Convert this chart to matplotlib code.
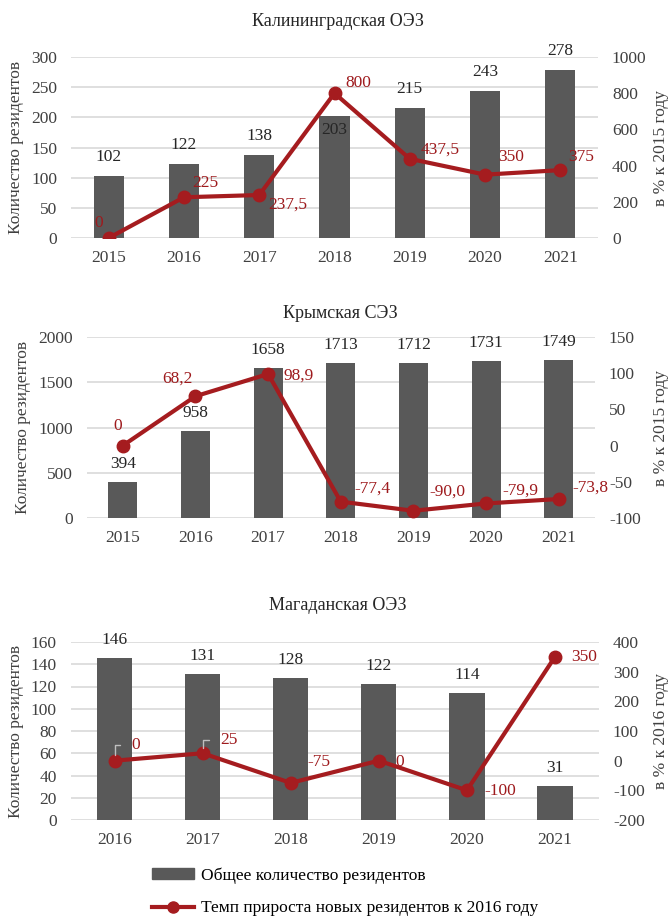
import matplotlib
matplotlib.use("Agg")
import matplotlib.pyplot as plt
from matplotlib.patches import Patch
from matplotlib.lines import Line2D

plt.rcParams['font.family'] = ['Liberation Serif', 'DejaVu Serif']
plt.rcParams['axes.unicode_minus'] = False

# ---------------- data ----------------
kal_years = ["2015", "2016", "2017", "2018", "2019", "2020", "2021"]
kal_total = [102, 122, 138, 203, 215, 243, 278]
kal_growth = [0, 225, 237.5, 800, 437.5, 350, 375]
kal_growth_labels = ["0", "225", "237,5", "800", "437,5", "350", "375"]

krym_years = ["2015", "2016", "2017", "2018", "2019", "2020", "2021"]
krym_total = [394, 958, 1658, 1713, 1712, 1731, 1749]
krym_growth = [0, 68.2, 98.9, -77.4, -90.0, -79.9, -73.8]
krym_growth_labels = ["0", "68,2", "98,9", "-77,4", "-90,0", "-79,9", "-73,8"]

mag_years = ["2016", "2017", "2018", "2019", "2020", "2021"]
mag_total = [146, 131, 128, 122, 114, 31]
mag_growth = [0, 25, -75, 0, -100, 350]
mag_growth_labels = ["0", "25", "-75", "0", "-100", "350"]

BAR = "#595959"
RED = "#a51c1f"
LBL_RED = "#9e1a1d"
GRID = "#d9d9d9"
TXT = "#262626"
FS = 12.5

W, H = 671, 918
fig = plt.figure(figsize=(W / 100, H / 100), dpi=100)


def px_axes(x0, x1, ytop, ybot):
    return fig.add_axes([x0 / W, 1 - ybot / H, (x1 - x0) / W, (ybot - ytop) / H])


def panel(ax, years, total, growth, glabels, lyl, lticks, ryl, rticks,
          bar_offsets, line_offsets, title, title_xy, rlabel, ylx=16, leaders=()):
    x = list(range(len(years)))
    ax.bar(x, total, width=0.4, color=BAR, zorder=2)
    ax.set_xlim(-0.5, len(years) - 0.5)
    ax.set_ylim(*lyl)
    ax.set_yticks(lticks)
    ax.set_xticks(x)
    ax.set_xticklabels(years)
    ax.yaxis.grid(True, color=GRID, linewidth=1.2, zorder=0)
    ax.set_axisbelow(True)
    for s in ax.spines.values():
        s.set_visible(False)
    ax.tick_params(axis='y', length=0, pad=10, labelsize=FS, labelcolor="#404040")
    ax.tick_params(axis='x', length=0, pad=9, labelsize=FS, labelcolor="#404040")
    for xi, v, off in zip(x, total, bar_offsets):
        ax.annotate(str(v), (xi, v), xytext=(0, off), textcoords='offset pixels',
                    ha='center', va='center', fontsize=FS, color=TXT, zorder=5)

    ax2 = ax.twinx()
    ax2.set_ylim(*ryl)
    ax2.set_yticks(rticks)
    for s in ax2.spines.values():
        s.set_visible(False)
    ax2.tick_params(axis='y', length=0, pad=10, labelsize=FS, labelcolor="#404040")
    for lab in ax2.get_yticklabels():
        lab.set_horizontalalignment('left')
    ax2.plot(x, growth, color=RED, linewidth=3, marker='o', markersize=9,
             markerfacecolor=RED, markeredgecolor=RED, zorder=4)
    for i, (xi, v, lab, off) in enumerate(zip(x, growth, glabels, line_offsets)):
        kw = {}
        if i in leaders:
            kw = dict(arrowprops=dict(arrowstyle='-', color='#bfbfbf', lw=1,
                                      shrinkA=6, shrinkB=4,
                                      connectionstyle='angle,angleA=0,angleB=90,rad=0'))
        ax2.annotate(lab, (xi, v), xytext=off, textcoords='offset pixels',
                     ha='center', va='center', fontsize=FS, color=LBL_RED,
                     zorder=6, **kw)

    fig.text(title_xy[0] / W, 1 - title_xy[1] / H, title, ha='center', va='center',
             fontsize=13, color=TXT)
    pos = ax.get_position()
    yc = pos.y0 + pos.height / 2
    fig.text(ylx / W, yc, "Количество резидентов", rotation=90, ha='center',
             va='center', fontsize=FS, color="#404040")
    fig.text(661 / W, yc, rlabel, rotation=90, ha='center', va='center',
             fontsize=FS, color="#404040")
    return ax2


# Panel 1
ax1 = px_axes(71, 598, 57, 238)
panel(ax1, kal_years, kal_total, kal_growth, kal_growth_labels,
      (0, 300), [0, 50, 100, 150, 200, 250, 300], (0, 1000), [0, 200, 400, 600, 800, 1000],
      [19, 19, 19, -14, 19, 19, 19],
      [(-10, 15), (21, 14), (29, -10), (24, 10), (30, 9), (26, 18), (21, 13)],
      "Калининградская ОЭЗ", (338, 22), "в % к 2015 году")

# Panel 2
ax2 = px_axes(86.5, 595, 337, 518)
panel(ax2, krym_years, krym_total, krym_growth, krym_growth_labels,
      (0, 2000), [0, 500, 1000, 1500, 2000], (-100, 150), [-100, -50, 0, 50, 100, 150],
      [18, 18, 18, 18, 18, 18, 18],
      [(-5, 20), (-18, 18), (31, -2), (32, 13), (34, 19), (34, 13), (32, 11)],
      "Крымская СЭЗ", (340, 313), "в % к 2015 году", ylx=23)

# Panel 3
ax3 = px_axes(70.6, 599, 642, 820)
panel(ax3, mag_years, mag_total, mag_growth, mag_growth_labels,
      (0, 160), [0, 20, 40, 60, 80, 100, 120, 140, 160], (-200, 400),
      [-200, -100, 0, 100, 200, 300, 400],
      [18, 18, 18, 18, 18, 18],
      [(21, 16), (26, 13), (28, 21), (21, -1), (33, -1), (29, 0)],
      "Магаданская ОЭЗ", (338, 605), "в % к 2016 году", leaders=(0, 1))

# Legend
handles = [Patch(facecolor=BAR, edgecolor=BAR),
           Line2D([0], [0], color=RED, linewidth=3, marker='o', markersize=8)]
labels = ["Общее количество резидентов", "Темп прироста новых резидентов к 2016 году"]
fig.legend(handles, labels, loc='center left', bbox_to_anchor=(152 / W, 1 - 892 / H),
           frameon=False, fontsize=FS, handlelength=2.4, handleheight=0.6,
           handletextpad=0.4, labelspacing=0.95, borderpad=0, borderaxespad=0)

fig.savefig("out.png", dpi=100)
